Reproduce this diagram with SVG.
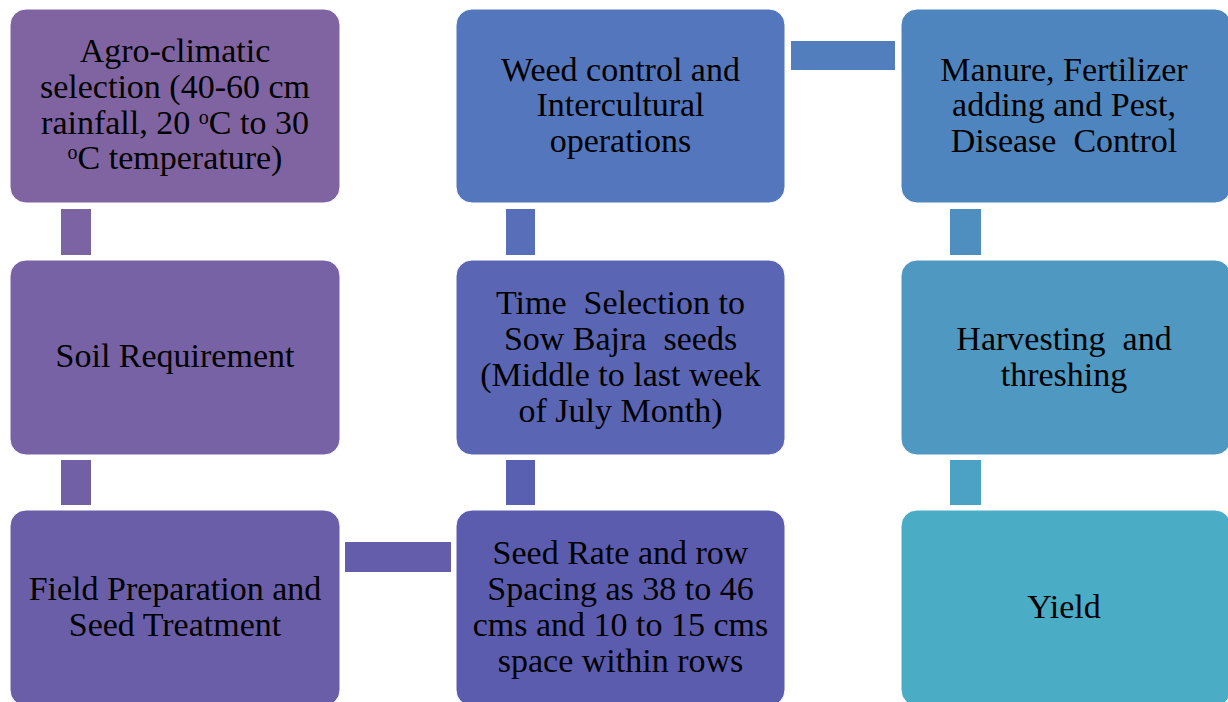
<svg xmlns="http://www.w3.org/2000/svg" width="1228" height="702" viewBox="0 0 1228 702">
<defs>
<style>
  .box { stroke: #ffffff; stroke-width: 1; }
</style>
</defs>
<rect x="0" y="0" width="1228" height="702" fill="#ffffff"/>
<g id="connectors">
  <rect x="61" y="209" width="30" height="46" fill="#7C64A4"/>
  <rect x="61" y="460" width="30" height="45" fill="#7260A7"/>
  <rect x="345" y="542" width="106" height="30" fill="#635DAC"/>
  <rect x="506" y="460" width="29" height="45" fill="#5A60B1"/>
  <rect x="506" y="209" width="29" height="46" fill="#576EB8"/>
  <rect x="791" y="41" width="104" height="29" fill="#527EBD"/>
  <rect x="950" y="209" width="31" height="46" fill="#4E8FC0"/>
  <rect x="950" y="460" width="31" height="45" fill="#4CA2C4"/>
</g>
<g font-family="Liberation Serif" font-size="34" fill="#000000" text-anchor="middle">
<g id="node-agro">
  <rect class="box" x="10" y="9" width="330" height="194" rx="16" fill="#8064A2"/>
  <text><tspan x="175" y="62">Agro-climatic</tspan><tspan x="175" y="98">selection (40-60 cm</tspan><tspan x="175" y="134">rainfall, 20 <tspan font-size="20" dy="-10">o</tspan><tspan dy="10">C to 30</tspan></tspan><tspan x="175" y="169"><tspan font-size="20" dy="-10">o</tspan><tspan dy="10">C temperature)</tspan></tspan></text>
</g>
<g id="node-soil">
  <rect class="box" x="10" y="260" width="330" height="195" rx="16" fill="#7762A6"/>
  <text x="175" y="367">Soil Requirement</text>
</g>
<g id="node-field">
  <rect class="box" x="10" y="510" width="330" height="196" rx="16" fill="#6B5EA9"/>
  <text><tspan x="175" y="600">Field Preparation and</tspan><tspan x="175" y="636">Seed Treatment</tspan></text>
</g>
<g id="node-seedrate">
  <rect class="box" x="456" y="510" width="329" height="196" rx="16" fill="#5C5CAE"/>
  <text><tspan x="620.5" y="564">Seed Rate and row</tspan><tspan x="620.5" y="600">Spacing as 38 to 46</tspan><tspan x="620.5" y="636">cms and 10 to 15 cms</tspan><tspan x="620.5" y="672">space within rows</tspan></text>
</g>
<g id="node-time">
  <rect class="box" x="456" y="260" width="329" height="195" rx="16" fill="#5A66B4"/>
  <text xml:space="preserve"><tspan x="620.5" y="314">Time  Selection to</tspan><tspan x="620.5" y="350">Sow Bajra  seeds</tspan><tspan x="620.5" y="386">(Middle to last week</tspan><tspan x="620.5" y="422">of July Month)</tspan></text>
</g>
<g id="node-weed">
  <rect class="box" x="456" y="9" width="329" height="194" rx="16" fill="#5476BC"/>
  <text><tspan x="620.5" y="81">Weed control and</tspan><tspan x="620.5" y="116">Intercultural</tspan><tspan x="620.5" y="152">operations</tspan></text>
</g>
<g id="node-manure">
  <rect class="box" x="901" y="9" width="330" height="194" rx="16" fill="#4F85BE"/>
  <text xml:space="preserve"><tspan x="1064" y="81">Manure, Fertilizer</tspan><tspan x="1064" y="116">adding and Pest,</tspan><tspan x="1064" y="152">Disease  Control</tspan></text>
</g>
<g id="node-harvest">
  <rect class="box" x="901" y="260" width="330" height="195" rx="16" fill="#4E98C2"/>
  <text xml:space="preserve"><tspan x="1064" y="350">Harvesting  and</tspan><tspan x="1064" y="386">threshing</tspan></text>
</g>
<g id="node-yield">
  <rect class="box" x="901" y="510" width="330" height="196" rx="16" fill="#4BACC6"/>
  <text x="1064" y="618">Yield</text>
</g>
</g>
</svg>
